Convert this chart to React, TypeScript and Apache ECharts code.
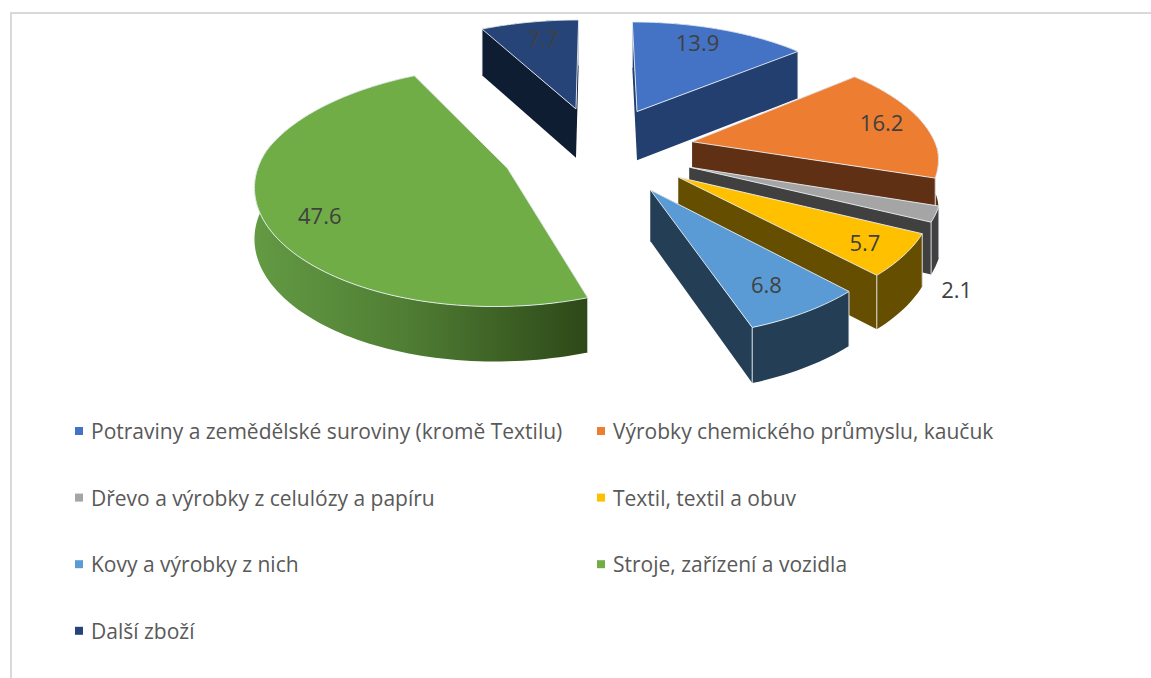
import React, { useEffect, useRef } from "react";
import * as echarts from "echarts";

const categories = [
  "Potraviny a zemědělské suroviny (kromě Textilu)",
  "Výrobky chemického průmyslu, kaučuk",
  "Dřevo a výrobky z celulózy a papíru",
  "Textil, textil a obuv",
  "Kovy a výrobky z nich",
  "Stroje, zařízení a vozidla",
  "Další zboží",
];
const values = [13.9, 16.2, 2.1, 5.7, 6.8, 47.6, 7.7];
const topColors = ["#4472c4", "#ed7d31", "#a5a5a5", "#ffc000", "#5b9bd5", "#70ad47", "#264478"];
const wallColors = ["#223f6f", "#5f3014", "#404040", "#654e00", "#243f55", "#3f6b28", "#0f1d33"];
// label placement on the slice: angle in degrees, fraction of the radius
const labelAngles = [22.5, 78.5, 135, 127, 150, 241, 347.5];
const labelFractions = [0.79, 0.825, 1.29, 0.845, 0.795, 0.8, 0.77];

const leftLegend = [categories[0], categories[2], categories[4], categories[6]];
const rightLegend = [categories[1], categories[3], categories[5]];

const CX = 598, CY = 150, R = 245, EXPLODE = 97, SQUASH = 0.46, DEPTH = 1700, HEIGHT = 50;
const total = values.reduce((a, b) => a + b, 0);
const starts: number[] = [];
values.reduce((acc, v, i) => { starts[i] = (acc / total) * 360; return acc + v; }, 0);
const rad = (d: number) => (d * Math.PI) / 180;

function project(x: number, y: number, z: number): [number, number] {
  const s = DEPTH / (DEPTH - y);
  const sx = y > 0 ? 1 + (s - 1) * 0.8 : s;
  return [CX + x * sx, CY + y * SQUASH * s + z * (1 + (s - 1) * 0.5)];
}

function makeRenderItem(i: number) {
  return (_params: any, api: any) => {
    const sweep = (api.value(0) / total) * 360;
    const a0 = starts[i];
    const a1 = a0 + sweep;
    const mid = rad((a0 + a1) / 2);
    const ox = EXPLODE * Math.sin(mid);
    const oy = -EXPLODE * Math.cos(mid);
    const pt = (deg: number, f: number, z: number) =>
      project(ox + f * R * Math.sin(rad(deg)), oy - f * R * Math.cos(rad(deg)), z);
    const n = Math.max(8, Math.ceil(sweep / 1.5));
    const arcTop: [number, number][] = [];
    const arcBot: [number, number][] = [];
    for (let k = 0; k <= n; k++) {
      const d = a0 + (sweep * k) / n;
      arcTop.push(pt(d, 1, 0));
      arcBot.push(pt(d, 1, HEIGHT));
    }
    const apexTop = pt(0, 0, 0);
    const apexBot = pt(0, 0, HEIGHT);
    const wall = wallColors[i];
    const edge = "rgba(235,240,245,0.9)";
    const outerFill: any =
      i === 5
        ? new echarts.graphic.LinearGradient(0, 0, 1, 0, [
            { offset: 0, color: "#639a43" },
            { offset: 0.45, color: "#507e34" },
            { offset: 1, color: "#2d4818" },
          ])
        : wall;
    const children: any[] = [
      { type: "polygon", shape: { points: [apexTop, arcTop[0], arcBot[0], apexBot] }, style: { fill: wall } },
      { type: "polygon", shape: { points: [apexTop, arcTop[n], arcBot[n], apexBot] }, style: { fill: wall } },
      { type: "polygon", shape: { points: [...arcTop, ...arcBot.slice().reverse()] }, style: { fill: outerFill } },
      { type: "line", shape: { x1: arcTop[0][0], y1: arcTop[0][1], x2: arcBot[0][0], y2: arcBot[0][1] }, style: { stroke: edge, lineWidth: 1 } },
      { type: "line", shape: { x1: arcTop[n][0], y1: arcTop[n][1], x2: arcBot[n][0], y2: arcBot[n][1] }, style: { stroke: edge, lineWidth: 1 } },
      { type: "polygon", shape: { points: [apexTop, ...arcTop] }, style: { fill: topColors[i], stroke: edge, lineWidth: 1 } },
    ];
    const lp = pt(labelAngles[i], labelFractions[i], 0);
    children.push({
      type: "text",
      z2: 10,
      style: {
        text: String(api.value(0).toFixed(1)),
        x: lp[0],
        y: lp[1] - 2,
        fill: "#404040",
        font: '22px "Open Sans"',
        textAlign: "center",
        textVerticalAlign: "middle",
      },
    });
    return { type: "group", children };
  };
}

const drawOrder = values
  .map((v, i) => ({ i, depth: Math.cos(rad(starts[i] + ((v / total) * 360) / 2)) }))
  .sort((a, b) => b.depth - a.depth)
  .map((o) => o.i);

export default function App() {
  const ref = useRef<HTMLDivElement>(null);
  useEffect(() => {
    document.body.style.margin = "0";
    const chart = echarts.init(ref.current!, null, { renderer: "svg" });
    const legendBase = {
      orient: "vertical",
      icon: "rect",
      itemWidth: 8,
      itemHeight: 8,
      itemGap: 45.6,
      selectedMode: false,
      textStyle: { color: "#595959", fontFamily: "Open Sans", fontSize: 21, padding: [0, 0, 0, 3] },
    };
    chart.setOption({
      animation: false,
      backgroundColor: "#ffffff",
      legend: [
        { ...legendBase, left: 70, top: 415.5, data: leftLegend },
        { ...legendBase, left: 592, top: 415.5, data: rightLegend },
      ],
      graphic: [
        { type: "rect", shape: { x: 10, y: 12, width: 1141, height: 2 }, style: { fill: "#d9d9d9" }, silent: true },
        { type: "rect", shape: { x: 10, y: 12, width: 2, height: 666 }, style: { fill: "#d9d9d9" }, silent: true },
      ],
      series: drawOrder.map((i) => ({
        type: "custom",
        name: categories[i],
        coordinateSystem: "none",
        clip: false,
        silent: true,
        itemStyle: { color: topColors[i] },
        data: [[values[i]]],
        renderItem: makeRenderItem(i),
      })),
    });
    return () => chart.dispose();
  }, []);
  return <div ref={ref} style={{ position: "absolute", left: 0, top: 0, width: 1151, height: 678 }} />;
}
